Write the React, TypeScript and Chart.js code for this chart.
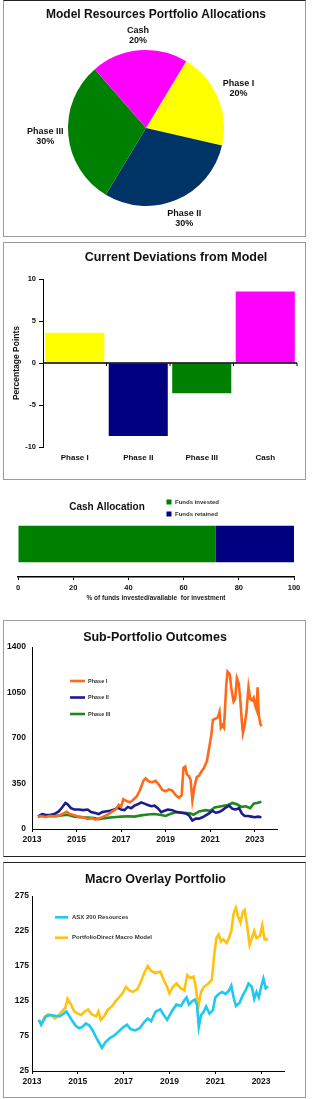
import React, { useEffect, useRef } from "react";
import { Chart, registerables } from "chart.js";

Chart.register(...registerables);

const FONT = "'Liberation Sans', Arial, Helvetica, sans-serif";

// ---------- Panel 1: model allocations ----------
const pieLabels = ["Phase I", "Phase II", "Phase III", "Cash"];
const pieValues = [20, 30, 30, 20];
const pieColors = ["#FFFF00", "#003366", "#008000", "#FF00FF"];

// ---------- Panel 2: deviations ----------
const devCategories = ["Phase I", "Phase II", "Phase III", "Cash"];
const devValues = [3.6, -8.7, -3.6, 8.5];
const devColors = ["#FFFF00", "#000080", "#008000", "#FF00FF"];

// ---------- Panel 3: cash allocation ----------
const cashSeries = ["Funds invested", "Funds retained"];
const cashValues = [71.5, 28.5];
const cashColors = ["#008000", "#000080"];

// ---------- shared year ticks ----------
const yearTicks = [2013, 2015, 2017, 2019, 2021, 2023];

// ---------- Panel 4: sub-portfolio outcomes ----------
const phase1Years = [2013.27, 2013.4, 2013.6, 2013.8, 2014.0, 2014.2, 2014.4, 2014.55, 2014.7, 2014.9, 2015.1, 2015.3, 2015.5, 2015.7, 2015.85, 2016.0, 2016.2, 2016.4, 2016.6, 2016.75, 2016.9, 2017.0, 2017.1, 2017.25, 2017.4, 2017.55, 2017.7, 2017.85, 2018.0, 2018.1, 2018.25, 2018.4, 2018.55, 2018.7, 2018.85, 2019.0, 2019.15, 2019.3, 2019.45, 2019.6, 2019.72, 2019.8, 2019.88, 2019.95, 2020.05, 2020.12, 2020.2, 2020.3, 2020.4, 2020.5, 2020.6, 2020.72, 2020.85, 2020.95, 2021.05, 2021.12, 2021.25, 2021.35, 2021.42, 2021.48, 2021.55, 2021.62, 2021.72, 2021.78, 2021.88, 2021.95, 2022.05, 2022.12, 2022.2, 2022.28, 2022.35, 2022.42, 2022.47, 2022.55, 2022.63, 2022.72, 2022.8, 2022.88, 2022.95, 2023.02, 2023.08, 2023.13, 2023.18, 2023.25, 2023.3];
const phase1Values = [95, 100, 92, 100, 97, 102, 118, 133, 115, 105, 95, 90, 78, 82, 72, 80, 95, 110, 135, 150, 185, 170, 230, 215, 205, 225, 250, 300, 370, 390, 365, 360, 370, 340, 300, 290, 305, 295, 260, 240, 260, 470, 480, 420, 405, 380, 220, 330, 400, 410, 440, 470, 520, 620, 720, 840, 850, 860, 900, 780, 800, 780, 1100, 1210, 1190, 1080, 980, 1000, 1160, 1120, 1000, 830, 740, 800, 900, 1090, 1000, 990, 1010, 950, 920, 1090, 880, 810, 790];

const phase2Years = [2013.27, 2013.45, 2013.6, 2013.8, 2014.0, 2014.2, 2014.35, 2014.5, 2014.6, 2014.75, 2014.9, 2015.1, 2015.3, 2015.5, 2015.65, 2015.8, 2016.0, 2016.15, 2016.3, 2016.5, 2016.7, 2016.85, 2017.0, 2017.15, 2017.3, 2017.45, 2017.6, 2017.75, 2017.9, 2018.05, 2018.2, 2018.35, 2018.5, 2018.65, 2018.8, 2018.95, 2019.1, 2019.3, 2019.5, 2019.7, 2019.9, 2020.05, 2020.2, 2020.35, 2020.5, 2020.65, 2020.8, 2020.95, 2021.1, 2021.25, 2021.4, 2021.55, 2021.7, 2021.85, 2022.0, 2022.15, 2022.3, 2022.42, 2022.55, 2022.7, 2022.85, 2023.0, 2023.15, 2023.3];
const phase2Values = [95, 115, 110, 108, 115, 135, 165, 200, 190, 160, 150, 150, 145, 150, 130, 125, 115, 130, 135, 140, 150, 165, 150, 145, 170, 160, 180, 190, 205, 195, 185, 175, 180, 160, 130, 140, 150, 145, 130, 125, 120, 105, 65, 80, 80, 90, 105, 120, 140, 125, 130, 145, 165, 180, 155, 150, 160, 120, 100, 100, 95, 90, 95, 90];

const phase3Years = [2013.27, 2013.5, 2013.8, 2014.0, 2014.3, 2014.6, 2014.9, 2015.2, 2015.5, 2015.8, 2016.0, 2016.2, 2016.5, 2016.8, 2017.0, 2017.3, 2017.6, 2017.9, 2018.2, 2018.5, 2018.8, 2019.0, 2019.2, 2019.5, 2019.8, 2020.1, 2020.25, 2020.5, 2020.8, 2021.0, 2021.2, 2021.5, 2021.8, 2022.0, 2022.2, 2022.4, 2022.6, 2022.8, 2022.95, 2023.1, 2023.3];
const phase3Values = [95, 105, 100, 100, 105, 110, 95, 90, 88, 85, 75, 82, 88, 92, 95, 98, 95, 105, 112, 115, 108, 100, 115, 130, 125, 120, 110, 135, 145, 140, 165, 175, 185, 200, 190, 170, 175, 160, 195, 200, 210];

// ---------- Panel 5: macro overlay ----------
const asxYears = [2013.3, 2013.4, 2013.5, 2013.6, 2013.8, 2014.0, 2014.2, 2014.35, 2014.5, 2014.6, 2014.75, 2014.9, 2015.05, 2015.2, 2015.35, 2015.5, 2015.65, 2015.8, 2015.95, 2016.05, 2016.2, 2016.4, 2016.6, 2016.8, 2017.0, 2017.15, 2017.3, 2017.5, 2017.7, 2017.9, 2018.05, 2018.2, 2018.4, 2018.6, 2018.75, 2018.9, 2019.1, 2019.3, 2019.5, 2019.65, 2019.75, 2019.85, 2020.0, 2020.1, 2020.2, 2020.28, 2020.38, 2020.5, 2020.6, 2020.75, 2020.9, 2021.0, 2021.15, 2021.3, 2021.45, 2021.6, 2021.7, 2021.8, 2021.9, 2022.05, 2022.2, 2022.35, 2022.45, 2022.6, 2022.7, 2022.8, 2022.9, 2023.0, 2023.1, 2023.2, 2023.3];
const asxValues = [98, 91, 97, 103, 105, 104, 103, 106, 110, 105, 97, 90, 86, 88, 93, 90, 83, 73, 64, 58, 66, 72, 76, 82, 88, 91, 85, 83, 86, 95, 100, 96, 110, 113, 105, 98, 110, 120, 118, 126, 130, 120, 125, 127, 120, 88, 105, 110, 117, 107, 112, 130, 135, 138, 135, 140, 147, 130, 118, 122, 133, 142, 150, 145, 128, 138, 130, 145, 157, 143, 146];

const macroYears = [2013.3, 2013.4, 2013.55, 2013.7, 2013.85, 2014.0, 2014.15, 2014.3, 2014.45, 2014.55, 2014.7, 2014.85, 2015.0, 2015.15, 2015.3, 2015.45, 2015.6, 2015.8, 2015.9, 2016.0, 2016.15, 2016.3, 2016.5, 2016.65, 2016.8, 2016.95, 2017.1, 2017.25, 2017.4, 2017.6, 2017.75, 2017.9, 2018.05, 2018.2, 2018.4, 2018.6, 2018.75, 2018.9, 2019.0, 2019.15, 2019.3, 2019.5, 2019.65, 2019.78, 2019.9, 2020.05, 2020.15, 2020.25, 2020.38, 2020.5, 2020.7, 2020.85, 2020.95, 2021.05, 2021.15, 2021.25, 2021.35, 2021.5, 2021.6, 2021.7, 2021.8, 2021.9, 2022.0, 2022.1, 2022.2, 2022.28, 2022.38, 2022.5, 2022.6, 2022.7, 2022.8, 2022.95, 2023.05, 2023.15, 2023.3];
const macroValues = [98, 92, 102, 106, 104, 100, 104, 110, 115, 128, 120, 110, 107, 105, 110, 113, 106, 103, 110, 98, 103, 112, 118, 125, 130, 136, 145, 140, 138, 142, 152, 165, 175, 168, 165, 167, 155, 145, 136, 145, 150, 143, 140, 162, 158, 160, 145, 115, 138, 145, 150, 155, 190, 215, 220, 210, 213, 208, 215, 225, 250, 258, 245, 237, 252, 255, 235, 205, 215, 225, 215, 218, 233, 213, 213];

// ---------- plugins ----------
const panelText = {
  id: "panelText",
  afterDraw(chart: any, _a: any, opts: any) {
    const ctx = chart.ctx;
    ctx.save();
    for (const it of opts.items || []) {
      ctx.font = it.font;
      ctx.fillStyle = it.color || "#111";
      ctx.textAlign = it.align || "center";
      ctx.textBaseline = "middle";
      ctx.fillText(it.text, it.x, it.y);
    }
    ctx.restore();
  },
};

const floatLegend = {
  id: "floatLegend",
  afterDraw(chart: any, _a: any, opts: any) {
    if (!opts || !opts.show) return;
    const ctx = chart.ctx;
    ctx.save();
    ctx.font = opts.font;
    ctx.textBaseline = "middle";
    ctx.textAlign = "left";
    chart.data.datasets.forEach((ds: any, i: number) => {
      const y = opts.y + i * opts.spacing;
      if (opts.kind === "box") {
        ctx.fillStyle = ds.backgroundColor;
        ctx.fillRect(opts.x - opts.size / 2, y - opts.size / 2, opts.size, opts.size);
      } else {
        ctx.strokeStyle = ds.borderColor;
        ctx.lineWidth = opts.lineWidth;
        ctx.beginPath();
        ctx.moveTo(opts.x, y);
        ctx.lineTo(opts.x + opts.length, y);
        ctx.stroke();
      }
      ctx.fillStyle = opts.color;
      ctx.fillText(ds.label, opts.textX, y);
    });
    ctx.restore();
  },
};

const pieLabelPlugin = {
  id: "pieLabels",
  afterDatasetsDraw(chart: any, _a: any, opts: any) {
    const meta = chart.getDatasetMeta(0);
    const ds = chart.data.datasets[0];
    const ctx = chart.ctx;
    ctx.save();
    ctx.font = opts.font;
    ctx.fillStyle = opts.color;
    ctx.textAlign = "center";
    ctx.textBaseline = "middle";
    meta.data.forEach((arc: any, i: number) => {
      const p = arc.getProps(["x", "y", "startAngle", "endAngle", "outerRadius"], true);
      const mid = (p.startAngle + p.endAngle) / 2;
      const ux = Math.cos(mid);
      const uy = Math.sin(mid);
      const l1 = chart.data.labels[i];
      const l2 = ds.data[i] + "%";
      const w = Math.max(ctx.measureText(l1).width, ctx.measureText(l2).width);
      const h = opts.lineHeight * 2;
      const d = p.outerRadius + opts.gap + Math.abs(ux) * w / 2 + Math.abs(uy) * h / 2;
      const cx = p.x + ux * d;
      const cy = p.y + uy * d;
      ctx.fillText(l1, cx, cy - opts.lineHeight / 2);
      ctx.fillText(l2, cx, cy + opts.lineHeight / 2);
    });
    ctx.restore();
  },
};

const zeroLinePlugin = {
  id: "zeroLine",
  afterDatasetsDraw(chart: any, _a: any, opts: any) {
    const xs = chart.scales.x;
    const ys = chart.scales.y;
    const y0 = ys.getPixelForValue(0);
    const n = chart.data.labels.length;
    const ctx = chart.ctx;
    ctx.save();
    ctx.strokeStyle = "#000";
    ctx.lineWidth = 1.5;
    ctx.beginPath();
    ctx.moveTo(chart.chartArea.left, y0);
    ctx.lineTo(chart.chartArea.right, y0);
    ctx.stroke();
    ctx.lineWidth = 1;
    ctx.beginPath();
    const step = xs.getPixelForValue(1) - xs.getPixelForValue(0);
    for (let i = 0; i < n; i++) {
      const xb = xs.getPixelForValue(i) + step / 2;
      ctx.moveTo(xb, y0);
      ctx.lineTo(xb, y0 + opts.length);
    }
    ctx.stroke();
    ctx.restore();
  },
};

const bold = (s: number) => ({ family: FONT, size: s, weight: "bold" as const });
const f = (s: number) => `bold ${s}px ${FONT}`;
const pts = (xs: number[], ys: number[]) => xs.map((x, i) => ({ x, y: ys[i] }));

// ---------- configs ----------
function pieConfig(): any {
  return {
    type: "pie",
    data: {
      labels: pieLabels,
      datasets: [{ data: pieValues, backgroundColor: pieColors, borderWidth: 0, hoverOffset: 0 }],
    },
    options: {
      responsive: false,
      animation: false,
      rotation: 31,
      layout: { padding: { top: 49, bottom: 30, left: 0, right: 16 } },
      plugins: {
        legend: { display: false },
        tooltip: { enabled: false },
        panelText: { items: [{ text: "Model Resources Portfolio Allocations", x: 152, y: 14, font: f(12) }] },
        pieLabels: { font: f(9), color: "#111", lineHeight: 10, gap: 4 },
      },
    },
    plugins: [panelText, pieLabelPlugin],
  };
}

function devConfig(): any {
  return {
    type: "bar",
    data: {
      labels: devCategories,
      datasets: [{ data: devValues, backgroundColor: devColors, barPercentage: 0.93, categoryPercentage: 1 }],
    },
    options: {
      responsive: false,
      animation: false,
      layout: { padding: { top: 36, right: 7, left: 0, bottom: 0 } },
      scales: {
        x: {
          grid: { display: false, drawTicks: false },
          border: { display: false },
          ticks: { font: bold(8), color: "#111", padding: 6, maxRotation: 0 },
          afterFit: (s: any) => { s.height = 32; },
        },
        y: {
          min: -10,
          max: 10,
          ticks: { stepSize: 5, font: bold(7.5), color: "#111", padding: 3, callback: (v: any) => String(v) },
          grid: { drawOnChartArea: false, drawTicks: true, tickLength: 4, color: "#000" },
          border: { display: true, color: "#000", width: 1 },
          title: { display: true, text: "Percentage Points", font: bold(8.5), color: "#111", padding: { top: 8, bottom: 0 } },
          afterFit: (s: any) => { s.width = 39; },
        },
      },
      plugins: {
        legend: { display: false },
        tooltip: { enabled: false },
        panelText: { items: [{ text: "Current Deviations from Model", x: 172, y: 15, font: f(12.5) }] },
        zeroLine: { length: 3 },
      },
    },
    plugins: [panelText, zeroLinePlugin],
  };
}

function cashConfig(): any {
  return {
    type: "bar",
    data: {
      labels: [""],
      datasets: cashSeries.map((name, i) => ({
        label: name,
        data: [cashValues[i]],
        backgroundColor: cashColors[i],
        barPercentage: 0.55,
        categoryPercentage: 1,
      })),
    },
    options: {
      indexAxis: "y",
      responsive: false,
      animation: false,
      layout: { padding: { top: 29, right: 10, left: 14, bottom: 0 } },
      scales: {
        x: {
          stacked: true,
          min: 0,
          max: 100,
          ticks: { stepSize: 20, font: bold(7.5), color: "#111", padding: 3 },
          grid: { drawOnChartArea: false, drawTicks: true, tickLength: 3, color: "#000" },
          border: { display: true, color: "#000", width: 1.5 },
          title: {
            display: true,
            text: "% of funds invested/available  for investment",
            font: bold(6.5),
            color: "#222",
            padding: { top: 0, bottom: 6 },
          },
          afterFit: (s: any) => { s.height = 31; },
        },
        y: { stacked: true, display: false },
      },
      plugins: {
        legend: { display: false },
        tooltip: { enabled: false },
        panelText: { items: [{ text: "Cash Allocation", x: 103, y: 25, font: f(10) }] },
        floatLegend: { show: true, kind: "box", x: 165, y: 20, spacing: 12, size: 5, textX: 171, font: f(6), color: "#333" },
      },
    },
    plugins: [panelText, floatLegend],
  };
}

function lineScales(ymin: number, ymax: number, ystep: number, yWidth: number, xHeight: number, yPad: number): any {
  return {
    x: {
      type: "linear",
      min: 2013,
      max: 2024,
      afterBuildTicks: (s: any) => { s.ticks = yearTicks.map((v) => ({ value: v })); },
      ticks: { font: bold(8.5), color: "#111", padding: 3, maxRotation: 0, autoSkip: false, callback: (v: any) => String(v) },
      grid: { drawOnChartArea: false, drawTicks: true, tickLength: 3, color: "#000" },
      border: { display: true, color: "#000", width: 1 },
      afterFit: (s: any) => { s.height = xHeight; },
    },
    y: {
      min: ymin,
      max: ymax,
      ticks: { stepSize: ystep, font: bold(8.5), color: "#111", padding: yPad, callback: (v: any) => String(v) },
      grid: { display: false, drawTicks: false },
      border: { display: true, color: "#000", width: 1 },
      afterFit: (s: any) => { s.width = yWidth; },
    },
  };
}

function subConfig(): any {
  return {
    type: "line",
    data: {
      datasets: [
        { label: "Phase I", data: pts(phase1Years, phase1Values), borderColor: "#FF6A1A" },
        { label: "Phase II", data: pts(phase2Years, phase2Values), borderColor: "#1C1C8A" },
        { label: "Phase III", data: pts(phase3Years, phase3Values), borderColor: "#1E8A1E" },
      ].map((d) => ({ ...d, borderWidth: 2.6, pointRadius: 0, tension: 0, fill: false })),
    },
    options: {
      responsive: false,
      animation: false,
      layout: { padding: { top: 26, right: 27, left: 0, bottom: 0 } },
      scales: lineScales(0, 1400, 350, 28, 27, 6),
      plugins: {
        legend: { display: false },
        tooltip: { enabled: false },
        panelText: { items: [{ text: "Sub-Portfolio Outcomes", x: 151, y: 17, font: f(12.5) }] },
        floatLegend: { show: true, kind: "line", x: 66, y: 60, spacing: 16.5, length: 15, lineWidth: 2.6, textX: 84, font: f(5.5), color: "#333" },
      },
    },
    plugins: [panelText, floatLegend],
  };
}

function macroConfig(): any {
  return {
    type: "line",
    data: {
      datasets: [
        { label: "ASX 200 Resources", data: pts(asxYears, asxValues), borderColor: "#1EC8F2" },
        { label: "PortfolioDirect Macro Model", data: pts(macroYears, macroValues), borderColor: "#FFC20E" },
      ].map((d) => ({ ...d, borderWidth: 2.6, pointRadius: 0, tension: 0, fill: false })),
    },
    options: {
      responsive: false,
      animation: false,
      layout: { padding: { top: 33, right: 20, left: 0, bottom: 0 } },
      scales: lineScales(25, 275, 50, 28, 26, 3),
      plugins: {
        legend: { display: false },
        tooltip: { enabled: false },
        panelText: { items: [{ text: "Macro Overlay Portfolio", x: 151.5, y: 17, font: f(12.5) }] },
        floatLegend: { show: true, kind: "line", x: 51, y: 54.3, spacing: 20.4, length: 13, lineWidth: 2.6, textX: 68, font: f(6), color: "#333" },
      },
    },
    plugins: [panelText, floatLegend],
  };
}

function ChartCanvas({ make, width, height }: { make: () => any; width: number; height: number }) {
  const ref = useRef<HTMLCanvasElement>(null);
  useEffect(() => {
    const chart = new Chart(ref.current as HTMLCanvasElement, make());
    return () => chart.destroy();
  }, []);
  return <canvas ref={ref} width={width} height={height} style={{ display: "block", width, height }} />;
}

const GRAY = "1px solid #9a9a9a";
const DARK = "1px solid #222";

export default function App() {
  const box = (top: number, height: number, extra: any = {}): any => ({
    position: "absolute",
    left: 3,
    top,
    width: 303,
    height,
    boxSizing: "border-box",
    border: GRAY,
    background: "#fff",
    ...extra,
  });
  return (
    <div style={{ position: "absolute", left: 0, top: 0, width: 312, height: 1099, background: "#fff", overflow: "hidden" }}>
      <div style={box(0, 237, { borderTop: DARK })}>
        <ChartCanvas make={pieConfig} width={300} height={235} />
      </div>
      <div style={box(242, 238)}>
        <ChartCanvas make={devConfig} width={300} height={236} />
      </div>
      <div style={{ position: "absolute", left: 4, top: 482, width: 300, height: 126 }}>
        <ChartCanvas make={cashConfig} width={300} height={126} />
      </div>
      <div style={box(620, 237, { borderBottom: DARK })}>
        <ChartCanvas make={subConfig} width={300} height={235} />
      </div>
      <div style={box(862, 236, { borderTop: DARK })}>
        <ChartCanvas make={macroConfig} width={300} height={234} />
      </div>
    </div>
  );
}
